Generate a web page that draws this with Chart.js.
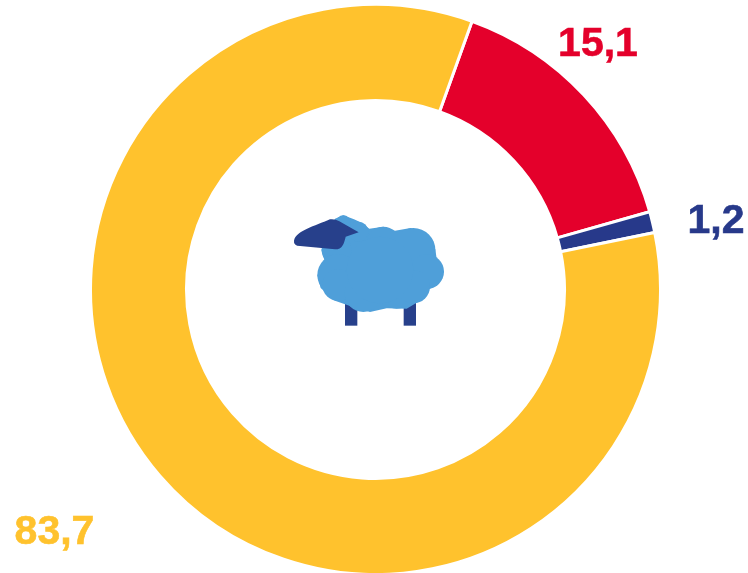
<!DOCTYPE html>
<html>
<head>
<meta charset="utf-8">
<style>
  html, body { margin: 0; padding: 0; background: #fff; overflow: hidden; }
  #wrap { width: 748px; height: 576px; }
</style>
<script src="https://cdn.jsdelivr.net/npm/chart.js@4"></script>
</head>
<body>
<div id="wrap"><canvas id="grafico" width="748" height="576"></canvas></div>
<script>
  // Data
  const categorias = ["Vermelho", "Azul", "Amarelo"];
  const valores = [15.1, 1.2, 83.7];
  const rotulos = ["15,1", "1,2", "83,7"];
  const cores = ["#E4002B", "#27398A", "#FFC22D"];

  // where each label sits, relative to the doughnut centre
  const deslocamentos = [[222.5, -245], [340.5, -68], [-321, 243]];

  // sheep icon, traced at 3x: outline of the fleece and its round lobes
  const contornoLa = [
    [190, 46], [222, 58], [245, 68], [268, 86], [310, 80], [345, 92], [392, 84],
    [440, 102], [466, 148], [470, 176], [491, 215], [472, 256], [440, 270],
    [420, 302], [380, 326], [320, 325], [270, 336], [210, 318], [165, 302],
    [122, 264], [112, 226], [135, 186], [124, 150], [150, 80], [165, 56]
  ];
  const laes = [
    [190, 68, 22], [235, 95, 30], [170, 150, 45], [310, 130, 50],
    [400, 150, 66], [440, 215, 52], [175, 225, 63], [175, 255, 48],
    [250, 280, 56], [350, 270, 56], [400, 260, 50], [300, 210, 100]
  ];

  // value labels
  const pluginRotulos = {
    id: "rotulos",
    afterDatasetsDraw(chart) {
      const ctx = chart.ctx;
      const arco = chart.getDatasetMeta(0).data[0];
      ctx.save();
      ctx.font = "bold 41px 'Liberation Sans', Arial, sans-serif";
      ctx.textAlign = "center";
      ctx.textBaseline = "middle";
      ctx.lineWidth = 0.6;
      rotulos.forEach((txt, i) => {
        const x = arco.x + deslocamentos[i][0];
        const y = arco.y + deslocamentos[i][1];
        ctx.fillStyle = cores[i];
        ctx.strokeStyle = cores[i];
        ctx.fillText(txt, x, y);
        ctx.strokeText(txt, x, y);
      });
      ctx.restore();
    }
  };

  // sheep icon in the middle of the ring
  const pluginOvelha = {
    id: "ovelha",
    afterDatasetsDraw(chart) {
      const ctx = chart.ctx;
      const arco = chart.getDatasetMeta(0).data[0];
      ctx.save();
      ctx.translate(arco.x - 95.5, arco.y - 89.5);
      ctx.scale(1 / 3, 1 / 3);

      // legs
      ctx.fillStyle = "#27408B";
      ctx.fillRect(195, 300, 37, 77);
      ctx.fillRect(371, 300, 37, 77);

      // fleece
      ctx.fillStyle = "#4F9FD9";
      ctx.beginPath();
      contornoLa.forEach(([x, y], i) => {
        if (i === 0) ctx.moveTo(x, y);
        else ctx.lineTo(x, y);
      });
      ctx.closePath();
      ctx.fill();
      laes.forEach(([x, y, r]) => {
        ctx.beginPath();
        ctx.arc(x, y, r, 0, Math.PI * 2);
        ctx.fill();
      });

      // face
      ctx.fillStyle = "#27408B";
      ctx.beginPath();
      ctx.moveTo(42, 122);
      ctx.bezierCurveTo(48, 92, 105, 78, 150, 58);
      ctx.quadraticCurveTo(165, 56, 178, 64);
      ctx.lineTo(236, 97);
      ctx.lineTo(197, 110);
      ctx.bezierCurveTo(192, 130, 188, 148, 165, 148);
      ctx.lineTo(60, 138);
      ctx.quadraticCurveTo(40, 137, 42, 122);
      ctx.closePath();
      ctx.fill();
      ctx.restore();
    }
  };

  new Chart(document.getElementById("grafico"), {
    type: "doughnut",
    data: {
      labels: categorias,
      datasets: [{
        data: valores,
        backgroundColor: cores,
        borderColor: "#ffffff",
        borderWidth: 3
      }]
    },
    options: {
      responsive: false,
      animation: false,
      rotation: 19.8,
      cutout: "66.3%",
      layout: { padding: { left: 89, right: 86, top: 3, bottom: 0 } },
      plugins: { legend: { display: false }, tooltip: { enabled: false } }
    },
    plugins: [pluginRotulos, pluginOvelha]
  });
</script>
</body>
</html>
